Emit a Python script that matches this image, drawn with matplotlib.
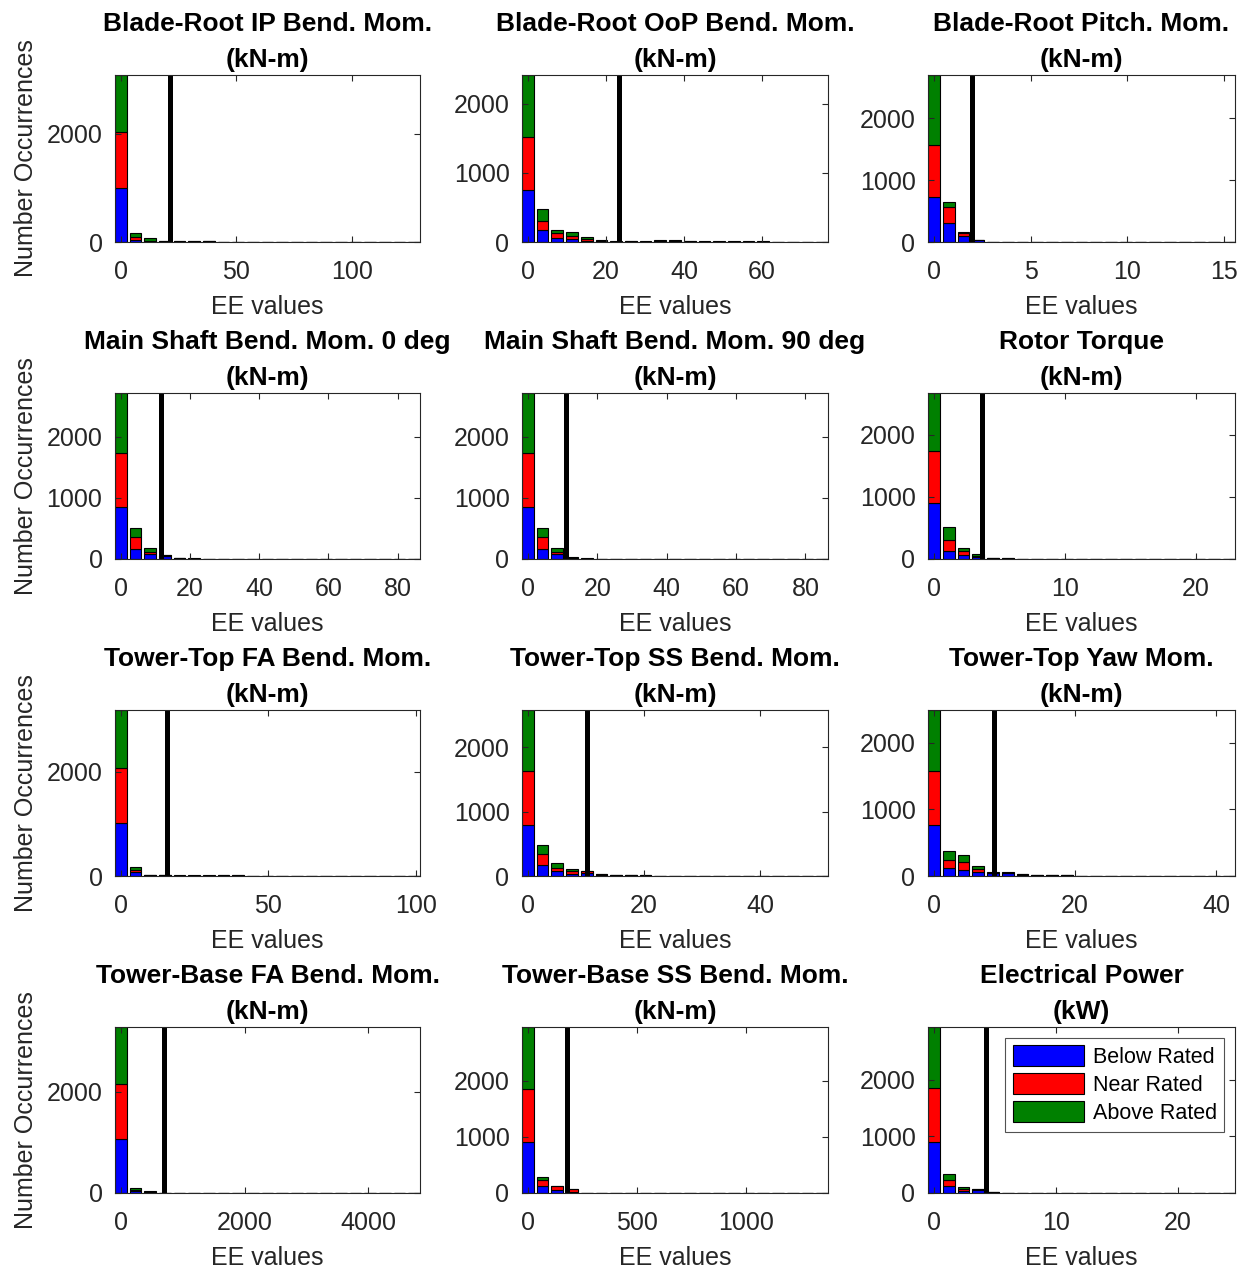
import matplotlib
matplotlib.use('Agg')
import matplotlib.pyplot as plt
import numpy as np

plt.rcParams['font.family'] = ['Liberation Sans', 'DejaVu Sans']

titles = ['Blade-Root IP Bend. Mom.', 'Blade-Root OoP Bend. Mom.', 'Blade-Root Pitch. Mom.',
          'Main Shaft Bend. Mom. 0 deg', 'Main Shaft Bend. Mom. 90 deg', 'Rotor Torque',
          'Tower-Top FA Bend. Mom.', 'Tower-Top SS Bend. Mom.', 'Tower-Top Yaw Mom.',
          'Tower-Base FA Bend. Mom.', 'Tower-Base SS Bend. Mom.', 'Electrical Power']
units = ['(kN-m)'] * 11 + ['(kW)']

# histogram bin widths (bins centred at 0, w, 2w, ...) and threshold lines
bin_width = [6.35, 3.77, 0.763, 4.24, 4.24, 1.127, 4.97, 2.53, 2.09, 237, 67.5, 1.21]
threshold = [21.2, 23.4, 1.98, 11.5, 11.1, 3.64, 15.8, 10.1, 8.5, 697, 178, 4.3]

below_rated = [
    [1005, 40, 10, 5, 8, 5, 12, 3, 2, 2, 2, 1, 1, 1],
    [754, 174, 62, 43, 15, 8, 3, 4, 3, 5, 8, 4, 3, 3, 2, 3, 2, 1, 1, 1],
    [731, 301, 90, 25, 3, 2],
    [857, 159, 77, 50, 12, 5, 3],
    [857, 169, 87, 18, 6, 3],
    [898, 129, 70, 37, 12, 8, 3, 3, 2],
    [1025, 71, 15, 12, 5, 5, 5, 8, 8, 3],
    [791, 171, 73, 36, 50, 20, 10, 12, 6, 3],
    [767, 124, 85, 55, 45, 45, 22, 15, 8, 12, 3],
    [1063, 40, 15, 3, 2, 2, 2, 2],
    [916, 130, 48, 20, 3, 2],
    [897, 119, 44, 55, 10, 3, 2],
]
near_rated = [
    [1026, 50, 10, 5, 8, 5, 3, 3, 1, 1],
    [763, 135, 64, 49, 28, 10, 4, 4, 4, 15, 12, 4, 4, 4, 3, 4, 3, 2, 2, 1],
    [834, 264, 55, 4, 1],
    [875, 197, 43, 10, 5, 2, 2],
    [875, 197, 28, 4, 2, 1],
    [849, 173, 59, 16, 4, 4, 1, 1, 1],
    [1046, 44, 5, 4, 3, 3, 3, 4, 4, 1],
    [842, 165, 56, 37, 20, 6, 3, 5, 2, 1],
    [812, 112, 130, 45, 6, 6, 5, 3, 1, 2, 1],
    [1089, 25, 8, 1, 1],
    [935, 102, 77, 45, 2, 1],
    [967, 111, 30, 7, 3, 1],
]
above_rated = [
    [1060, 82, 55, 15, 10, 8, 5, 3, 1, 1],
    [903, 165, 48, 48, 25, 7, 3, 4, 3, 5, 10, 4, 3, 3, 3, 3, 3, 2, 2, 1],
    [1129, 85, 16, 2, 1],
    [989, 147, 55, 6, 3, 2, 1],
    [989, 147, 60, 3, 2, 1],
    [930, 219, 43, 27, 4, 3, 1, 1, 1],
    [1121, 52, 5, 4, 2, 2, 2, 3, 3, 1],
    [941, 145, 68, 31, 8, 4, 2, 3, 2, 1],
    [917, 140, 101, 50, 4, 4, 3, 2, 1, 1, 1],
    [1135, 40, 7, 1, 1],
    [1113, 59, 0, 6, 1],
    [1074, 101, 28, 5, 2, 1],
]

xticks = [[0, 50, 100], [0, 20, 40, 60], [0, 5, 10, 15],
          [0, 20, 40, 60, 80], [0, 20, 40, 60, 80], [0, 10, 20],
          [0, 50, 100], [0, 20, 40], [0, 20, 40],
          [0, 2000, 4000], [0, 500, 1000], [0, 10, 20]]
yticks = [[0, 2000], [0, 1000, 2000], [0, 1000, 2000],
          [0, 1000, 2000], [0, 1000, 2000], [0, 1000, 2000],
          [0, 2000], [0, 1000, 2000], [0, 1000, 2000],
          [0, 2000], [0, 1000, 2000], [0, 1000, 2000]]

N_BINS = 21
W, H = 1249, 1272
col_left = [115, 522, 928]
col_right = [420, 828, 1235]
row_top = [75, 393, 710, 1027]
row_bot = [242, 559, 876, 1193]

fig = plt.figure(figsize=(W / 100, H / 100), dpi=100)


def pad(vals):
    return np.array(list(vals) + [0] * (N_BINS - len(vals)), dtype=float)


for i in range(12):
    r, c = divmod(i, 3)
    ax = fig.add_axes([col_left[c] / W, 1 - row_bot[r] / H,
                       (col_right[c] - col_left[c]) / W, (row_bot[r] - row_top[r]) / H])
    w = bin_width[i]
    centers = np.arange(N_BINS) * w
    b = pad(below_rated[i])
    n = pad(near_rated[i])
    a = pad(above_rated[i])
    kw = dict(width=0.8 * w, edgecolor='black', linewidth=0.8)
    ax.bar(centers, b, color='#0000FF', label='Below Rated', **kw)
    ax.bar(centers, n, bottom=b, color='#FF0000', label='Near Rated', **kw)
    ax.bar(centers, a, bottom=b + n, color='#008000', label='Above Rated', **kw)
    top = b[0] + n[0] + a[0]
    ax.plot([threshold[i], threshold[i]], [0, top], color='black', linewidth=3.6)
    ax.set_xlim(-0.4 * w, (N_BINS - 1) * w + 0.4 * w)
    ax.set_ylim(0, top)
    ax.set_xticks(xticks[i])
    ax.set_yticks(yticks[i])
    ax.tick_params(direction='in', top=True, right=True, length=4, width=0.8,
                   labelsize=18, pad=9, colors='#262626')
    ax.tick_params(axis='x', pad=13)
    for sp in ax.spines.values():
        sp.set_color('#262626')
        sp.set_linewidth(0.8)
    ax.set_title(titles[i] + '\n' + units[i], fontsize=19, fontweight='bold', pad=6,
                 linespacing=1.6)
    ax.set_xlabel('EE values', fontsize=18, labelpad=8, color='#262626')
    if c == 0:
        ax.set_ylabel('Number Occurrences', fontsize=18, labelpad=6, color='#262626')
    if i == 11:
        leg = ax.legend(loc='upper right', fontsize=15.5, frameon=True, fancybox=False,
                        edgecolor='#262626', handlelength=3.3, handleheight=1.1,
                        borderaxespad=0.5, labelspacing=0.25, handletextpad=0.4,
                        borderpad=0.35)
        leg.get_frame().set_linewidth(0.8)

fig.savefig('out.png', dpi=100)
